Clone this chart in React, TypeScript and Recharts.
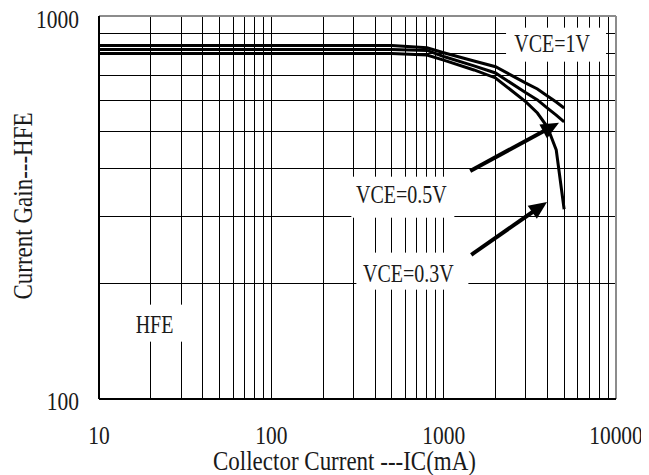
import React from "react";
import {
  LineChart,
  Line,
  XAxis,
  YAxis,
  CartesianGrid,
  ReferenceLine,
  ReferenceDot,
} from "recharts";

// ---- data ----
const currents = [10, 500, 800, 1000, 1500, 2000, 3000, 3500, 4000, 4500, 5000];
const hfeVce1 = [837, 837, 826, 802, 763, 737, 668, 645, 618, 596, 575];
const hfeVce05 = [817, 817, 813, 784, 741, 710, 630, 604, 575, 551, 529];
const hfeVce03 = [798, 798, 791, 767, 723, 689, 597, 558, 513, 447, 313];

const xTicks = [10, 100, 1000, 10000];
const yTicks = [100, 1000];
const xGrid = [
  20, 30, 40, 50, 60, 70, 80, 90, 100, 200, 300, 400, 500, 600, 700, 800, 900,
  1000, 2000, 3000, 4000, 5000, 6000, 7000, 8000, 9000,
];
const yGrid = [200, 300, 400, 500, 600, 700, 800, 900];

const seriesNames = ["VCE=1V", "VCE=0.5V", "VCE=0.3V"];

// annotation anchors (data coordinates of text baseline centre)
const annotations = [
  { text: "VCE=1V", x: 4255, y: 807, left: -46, top: -24, w: 100, h: 34 },
  { text: "VCE=0.5V", x: 568, y: 325.5, left: -50, top: -26, w: 103, h: 41 },
  { text: "VCE=0.3V", x: 624, y: 202.5, left: -52, top: -29, w: 112, h: 37 },
  { text: "HFE", x: 21, y: 149, left: -35, top: -28, w: 70, h: 37 },
];

const arrows = [
  { x1: 1426, y1: 394, x2: 4671, y2: 526 },
  { x1: 1445, y1: 238, x2: 3980, y2: 327 },
];

const toSeries = (vals: number[]) => currents.map((x, i) => ({ x, y: vals[i] }));
const series = [toSeries(hfeVce1), toSeries(hfeVce05), toSeries(hfeVce03)];

const FONT = "'Liberation Serif', 'Times New Roman', serif";

function SText({
  x,
  y,
  size = 20,
  sy = 1.2,
  anchor = "middle",
  rotate = 0,
  children,
}: any) {
  return (
    <text
      transform={`translate(${x},${y}) rotate(${rotate}) scale(1,${sy})`}
      textAnchor={anchor}
      fontFamily={FONT}
      fontSize={size}
      fill="#1a1a1a"
    >
      {children}
    </text>
  );
}

const XTick = (p: any) => (
  <SText x={p.x} y={p.y} size={21.5} sy={1.18}>
    {String(p.payload.value)}
  </SText>
);

const YTick = (p: any) => (
  <SText x={p.x} y={p.y + 11} size={21.5} sy={1.18} anchor="end">
    {String(p.payload.value)}
  </SText>
);

const XTitle = () => (
  <SText x={336.5} y={462} size={23} sy={1.15}>
    Collector Current ---IC(mA)
  </SText>
);

const YTitle = () => (
  <SText x={23.7} y={198} size={23} sy={1.2} rotate={-90}>
    Current Gain---HFE
  </SText>
);

const makeAnnotationShape = (a: any) => (p: any) => (
  <g>
    <rect x={p.cx + a.left} y={p.cy + a.top} width={a.w} height={a.h} fill="#fff" />
    <SText x={p.cx} y={p.cy} size={20} sy={1.25}>
      {a.text}
    </SText>
  </g>
);

const ArrowShape = (p: any) => {
  const { x1, y1, x2, y2 } = p;
  if ([x1, y1, x2, y2].some((v) => typeof v !== "number" || isNaN(v))) return <g />;
  const dx = x2 - x1;
  const dy = y2 - y1;
  const len = Math.hypot(dx, dy) || 1;
  const ux = dx / len;
  const uy = dy / len;
  const hl = 18;
  const hw = 8;
  const bx = x2 - ux * hl;
  const by = y2 - uy * hl;
  const px = -uy;
  const py = ux;
  return (
    <g>
      <line
        x1={x1}
        y1={y1}
        x2={bx + ux * 3}
        y2={by + uy * 3}
        stroke="#000"
        strokeWidth={4}
      />
      <polygon
        points={`${x2},${y2} ${bx + px * hw},${by + py * hw} ${bx - px * hw},${by - py * hw}`}
        fill="#000"
      />
    </g>
  );
};

const scaleOf = (axis: any) => {
  const s = axis && axis.scale;
  if (typeof s === "function") return s;
  if (s && typeof s.map === "function") return (v: number) => s.map(v);
  return null;
};

const vGen = (args: any) => {
  const s = scaleOf(args && args.xAxis);
  return s ? xGrid.map((v) => s(v)) : [];
};
const hGen = (args: any) => {
  const s = scaleOf(args && args.yAxis);
  return s ? yGrid.map((v) => s(v)) : [];
};

const css = `
.recharts-cartesian-grid line { shape-rendering: crispEdges; }
.border-line line { shape-rendering: crispEdges; }
`;

export default function App() {
  return (
    <div>
      <style>{css}</style>
      <LineChart
        width={641}
        height={467}
        margin={{ top: 8, right: 33, left: 0, bottom: 6 }}
        style={{ background: "#fff" }}
      >
        <CartesianGrid
          verticalCoordinatesGenerator={vGen}
          horizontalCoordinatesGenerator={hGen}
          stroke="#000"
          strokeWidth={1}
        />
        <XAxis
          dataKey="x"
          type="number"
          scale="log"
          domain={[10, 10000]}
          ticks={xTicks}
          allowDataOverflow
          height={70}
          tickSize={0}
          tickMargin={45}
          tickLine={false}
          tick={XTick}
          axisLine={{ stroke: "#000", strokeWidth: 2 }}
          label={{ content: XTitle }}
        />
        <YAxis
          type="number"
          scale="log"
          domain={[100, 1000]}
          ticks={yTicks}
          allowDataOverflow
          width={91}
          tickSize={0}
          tickMargin={20}
          tickLine={false}
          tick={YTick}
          axisLine={{ stroke: "#000", strokeWidth: 2 }}
          label={{ content: YTitle }}
        />
        {annotations.map((a) => (
          <ReferenceDot
            key={a.text}
            x={a.x}
            y={a.y}
            r={1}
            ifOverflow="visible"
            shape={makeAnnotationShape(a)}
          />
        ))}
        {series.map((d, i) => (
          <Line
            key={seriesNames[i]}
            name={seriesNames[i]}
            data={d}
            dataKey="y"
            type="linear"
            stroke="#000"
            strokeWidth={3}
            dot={false}
            activeDot={false}
            isAnimationActive={false}
          />
        ))}
        {arrows.map((a, i) => (
          <ReferenceLine
            key={"arrow" + i}
            segment={[
              { x: a.x1, y: a.y1 },
              { x: a.x2, y: a.y2 },
            ]}
            ifOverflow="visible"
            shape={ArrowShape}
          />
        ))}
        <ReferenceLine y={1000} stroke="#8c8c8c" strokeWidth={2} className="border-line" />
        <ReferenceLine x={10000} stroke="#8c8c8c" strokeWidth={2} className="border-line" />
      </LineChart>
    </div>
  );
}
